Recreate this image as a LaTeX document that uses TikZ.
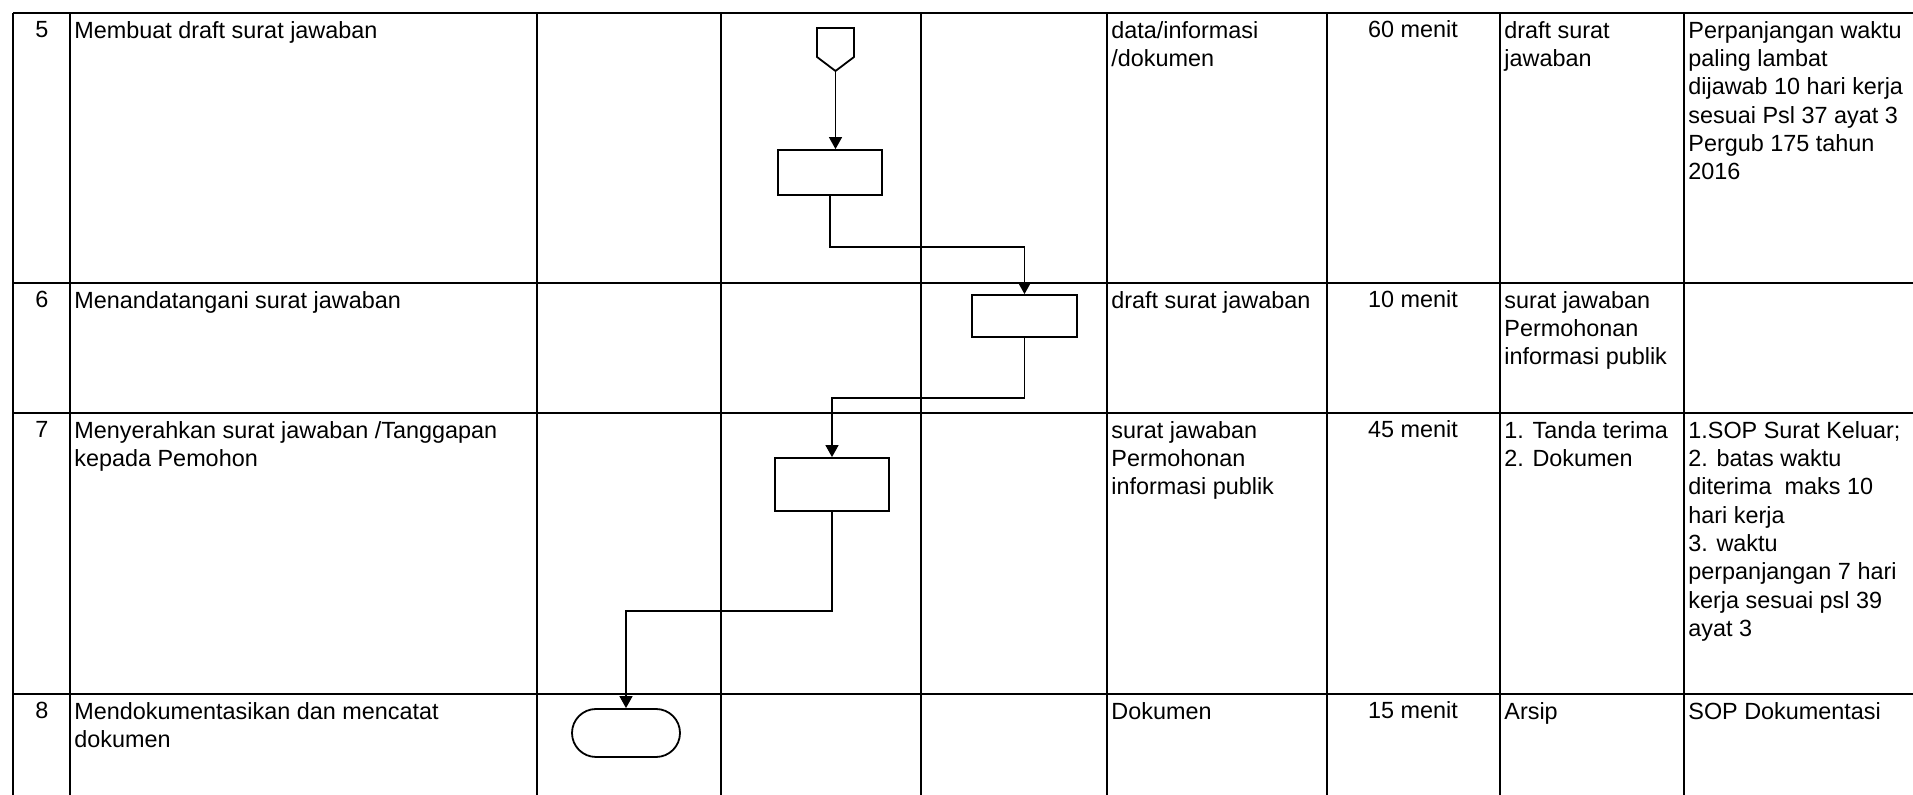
\documentclass[tikz,border=0pt]{standalone}
\usepackage{fontspec}
\setmainfont{Liberation Sans}
\usetikzlibrary{arrows.meta,shapes.misc}
\tikzstyle{garis}=[line width=1.3pt]
\tikzstyle{prosesbox}=[rectangle,draw=black,line width=0.9pt,inner sep=0pt]
\tikzstyle{terminbox}=[rounded rectangle,draw=black,line width=0.9pt,
                       inner sep=0pt]
\tikzstyle{alur}=[line width=0.7pt,-{Triangle[length=6pt,width=6.5pt]}]
\tikzstyle{isi}=[anchor=north west,align=left,inner sep=0pt,
                 font=\fontsize{11.7}{14.15}\selectfont]
\tikzstyle{tengah}=[anchor=base,inner sep=0pt,
                    font=\fontsize{11.7}{14.15}\selectfont]

\begin{document}
\begin{tikzpicture}[x=0.5pt,y=-0.5pt]
    \useasboundingbox (0,0) rectangle (1913,795);
    \foreach \y in {13,283,413,694}
        \draw[garis] (13,\y) -- (1913,\y);
    \foreach \x in {13,70,537,721,921,1107,1327,1500,1684}
        \draw[garis] (\x,13) -- (\x,795);

    % simbol alur
    \draw[line width=0.9pt] (817,57) -- (817,28) -- (854,28) -- (854,57)
        -- (835.5,71) -- cycle;
    \coordinate (p5) at (835.5,71);
    \node (b5) at (830,172.5) [prosesbox,minimum width=52pt,minimum height=22.5pt]{};
    \node (b6) at (1024.5,316) [prosesbox,minimum width=52.5pt,minimum height=21pt]{};
    \node (b7) at (832,484.5) [prosesbox,minimum width=57pt,minimum height=26.5pt]{};
    \node (t8) at (626,733) [terminbox,minimum width=54pt,minimum height=24pt]{};
    \draw[alur] (p5) -- (p5 |- b5.north);
    \draw[alur] (b5.south) -- ++(0,51) -| (b6.north);
    \draw[alur] (b6.south) -- ++(0,60) -| (b7.north);
    \draw[alur] (b7.south) -- ++(0,99) -| (t8.north);

    % baris 5
    \node (n5) at (42,38) [tengah]{5};
    \node (k5) at (74,21) [isi]{Membuat draft surat jawaban};
    \node (d5) at (1111,21) [isi]{data/informasi\\/dokumen};
    \node (w5) at (1413,38) [tengah]{60 menit};
    \node (o5) at (1504,21) [isi]{draft surat\\jawaban};
    \node (c5) at (1688,21) [isi]{Perpanjangan waktu\\paling lambat\\dijawab 10 hari kerja\\sesuai Psl 37 ayat 3\\Pergub 175 tahun\\2016};

    % baris 6
    \node (n6) at (42,308) [tengah]{6};
    \node (k6) at (74,291) [isi]{Menandatangani surat jawaban};
    \node (d6) at (1111,291) [isi]{draft surat jawaban};
    \node (w6) at (1413,308) [tengah]{10 menit};
    \node (o6) at (1504,291) [isi]{surat jawaban\\Permohonan\\informasi publik};

    % baris 7
    \node (n7) at (42,438) [tengah]{7};
    \node (k7) at (74,421) [isi]{Menyerahkan surat jawaban /Tanggapan\\kepada Pemohon};
    \node (d7) at (1111,421) [isi]{surat jawaban\\Permohonan\\informasi publik};
    \node (w7) at (1413,438) [tengah]{45 menit};
    \node (o7) at (1504,421) [isi]{1. Tanda terima\\2. Dokumen};
    \node (c7) at (1688,421) [isi]{1.SOP Surat Keluar;\\2. batas waktu\\diterima\ \ maks 10\\hari kerja\\3. waktu\\perpanjangan 7 hari\\kerja sesuai psl 39\\ayat 3};

    % baris 8
    \node (n8) at (42,719) [tengah]{8};
    \node (k8) at (74,702) [isi]{Mendokumentasikan dan mencatat\\dokumen};
    \node (d8) at (1111,702) [isi]{Dokumen};
    \node (w8) at (1413,719) [tengah]{15 menit};
    \node (o8) at (1504,702) [isi]{Arsip};
    \node (c8) at (1688,702) [isi]{SOP Dokumentasi};
\end{tikzpicture}
\end{document}
